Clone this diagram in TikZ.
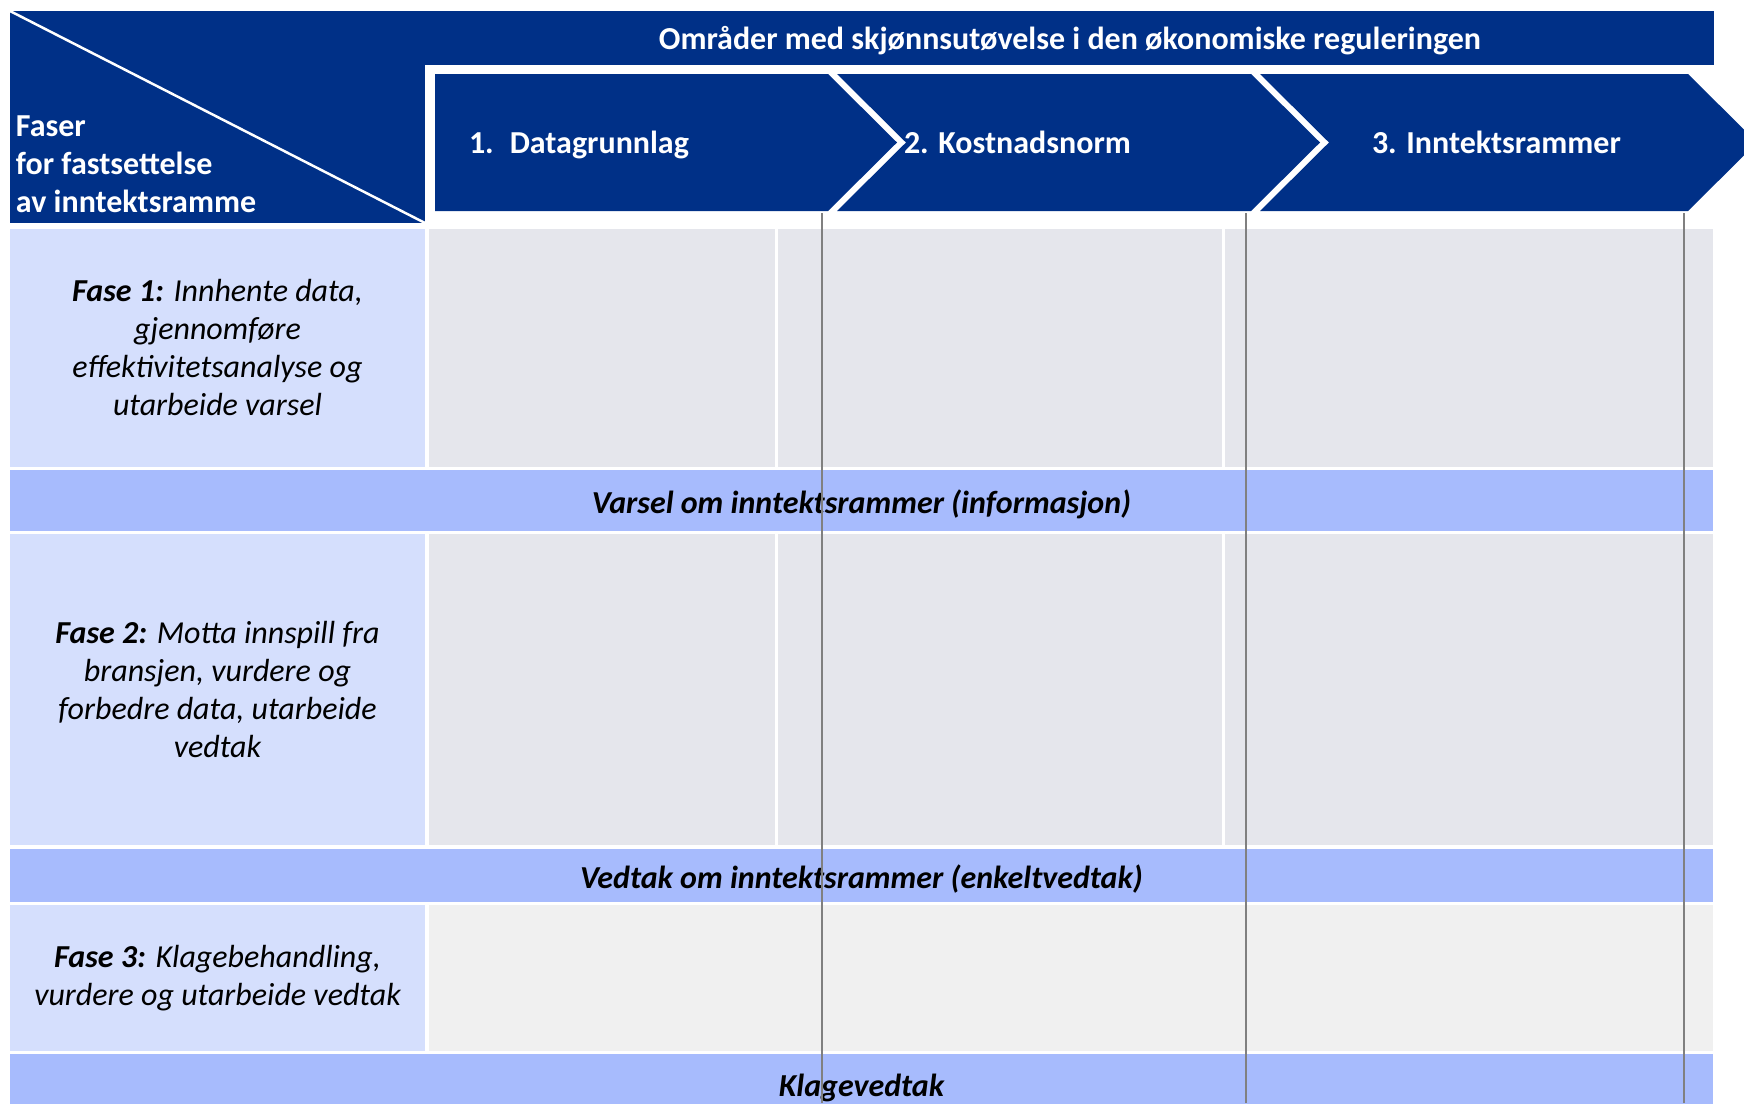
\documentclass[tikz,border=0pt]{standalone}
\usepackage{fontspec}
\setmainfont{Carlito}
\usepackage{tikz}
\usetikzlibrary{positioning, calc}
\definecolor{navy}{HTML}{003087}
\definecolor{phasebg}{HTML}{D5DFFD}
\definecolor{bandbg}{HTML}{A7BBFD}
\definecolor{cellgrey}{HTML}{E5E6EC}
\definecolor{cellpale}{HTML}{F0F0F0}
\definecolor{rulegrey}{HTML}{808080}

\begin{document}
\begin{tikzpicture}[x=1pt, y=-1pt,
    every node/.style={inner sep=0pt, outer sep=0pt},
    headtext/.style={text=white, font=\fontsize{32}{38}\selectfont\bfseries},
    phasecell/.style={fill=phasebg, minimum width=415pt, align=center, font=\fontsize{32}{38}\selectfont\itshape},
    greycell/.style={fill=cellgrey},
    bandrow/.style={fill=bandbg, minimum width=1703pt, text height=28pt, text depth=3pt, font=\fontsize{32}{38}\selectfont\bfseries\itshape},
    chevron/.style={fill=navy}]
    \useasboundingbox (0,0) rectangle (1744,1103);
    \clip (0,0) rectangle (1744,1103);

    % header: corner box and title band
    \node (corner) [fill=navy, anchor=north west, minimum width=415pt, minimum height=212pt] at (10,11) {};
    \node (titleband) [fill=navy, anchor=north west, minimum width=1289pt, minimum height=54pt] at (425,11) {};
    \draw[white, line width=2.5pt] (corner.north west) -- (corner.south east);
    \node (faser) [headtext, anchor=west, align=left] at (16,164) {Faser\\for fastsettelse\\av inntektsramme};
    \node (title) [headtext, anchor=base] at (1070,49) {Områder med skjønnsutøvelse i den økonomiske reguleringen};

    % chevrons
    \fill[chevron] (435,74) -- (828,74) -- (897,142.5) -- (828,211) -- (435,211) -- cycle;
    \fill[chevron] (837,74) -- (1251,74) -- (1320,142.5) -- (1251,211) -- (837,211) -- (906,142.5) -- cycle;
    \fill[chevron] (1260,74) -- (1688,74) -- (1757,142.5) -- (1688,211) -- (1260,211) -- (1329,142.5) -- cycle;
    \node (data) [headtext, anchor=base west] at (469,153) {1.\hspace{0.5em}Datagrunnlag};
    \node (kost) [headtext, anchor=base west] at (904,153) {2. Kostnadsnorm};
    \node (innt) [headtext, anchor=base west] at (1372,153) {3. Inntektsrammer};

    % phase 1
    \node (fase1) [phasecell, minimum height=238pt] at (217.5,348) {\textbf{Fase 1:} Innhente data,\\gjennomføre\\effektivitetsanalyse og\\utarbeide varsel};
    \node (g1a) [greycell, minimum width=346pt, minimum height=238pt] at (602,348) {};
    \node (g1b) [greycell, minimum width=444pt, minimum height=238pt] at (1000,348) {};
    \node (g1c) [greycell, minimum width=488pt, minimum height=238pt] at (1469,348) {};
    \node (varsel) [bandrow, minimum height=61pt] at (861.5,500.5) {Varsel om inntektsrammer (informasjon)};

    % phase 2
    \node (fase2) [phasecell, minimum height=311pt] at (217.5,689.5) {\textbf{Fase 2:} Motta innspill fra\\bransjen, vurdere og\\forbedre data, utarbeide\\vedtak};
    \node (g2a) [greycell, minimum width=346pt, minimum height=311pt] at (602,689.5) {};
    \node (g2b) [greycell, minimum width=444pt, minimum height=311pt] at (1000,689.5) {};
    \node (g2c) [greycell, minimum width=488pt, minimum height=311pt] at (1469,689.5) {};
    \node (vedtak) [bandrow, minimum height=53pt] at (861.5,875.5) {Vedtak om inntektsrammer (enkeltvedtak)};

    % phase 3
    \node (fase3) [phasecell, minimum height=146pt] at (217.5,978) {\textbf{Fase 3:} Klagebehandling,\\vurdere og utarbeide vedtak};
    \node (g3) [fill=cellpale, minimum width=1284pt, minimum height=146pt] at (1071,978) {};
    \node (klage) [bandrow, minimum height=60pt] at (861.5,1084) {Klagevedtak};

    % thin rules under the chevrons
    \draw[rulegrey, line width=1.3pt] (822,213) -- (822,1103);
    \draw[rulegrey, line width=1.3pt] (1246,213) -- (1246,1103);
    \draw[rulegrey, line width=1.3pt] (1684,213) -- (1684,1103);
\end{tikzpicture}
\end{document}
